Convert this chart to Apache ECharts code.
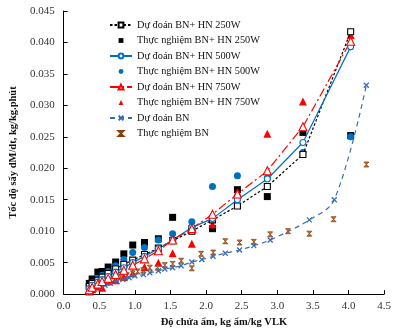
<!DOCTYPE html>
<html>
<head>
<meta charset="utf-8">
<script src="https://cdn.jsdelivr.net/npm/echarts@6/dist/echarts.min.js"></script>
<style>
  html, body { margin: 0; padding: 0; background: #fff; }
  #chart { width: 394px; height: 333px; }
</style>
</head>
<body>
<div id="chart"></div>
<script>
// độ chứa ẩm (x) cho các chế độ BN + HN
const xHN = [0.36, 0.40, 0.48, 0.54, 0.625, 0.73, 0.845, 0.97, 1.135, 1.33, 1.53, 1.80, 2.09, 2.44, 2.86, 3.36, 4.03]
const pred250 = [0.0012, 0.0017, 0.0022, 0.0027, 0.0033, 0.0040, 0.0047, 0.0054, 0.0063, 0.0073, 0.0085, 0.0100, 0.0118, 0.0140, 0.0171, 0.0222, 0.0417]
const exp250 = [0.0017, 0.0024, 0.0035, 0.0036, 0.0043, 0.0051, 0.0064, 0.0078, 0.0082, 0.0088, 0.0122, 0.0104, 0.0104, 0.0166, 0.0155, 0.0257, 0.0252]
const pred500 = [0.0009, 0.0014, 0.0019, 0.0023, 0.0028, 0.0035, 0.0042, 0.0050, 0.0060, 0.0072, 0.0086, 0.0106, 0.0120, 0.0150, 0.0183, 0.0241, 0.0393]
const exp500 = [0.0012, 0.0018, 0.0024, 0.0030, 0.0036, 0.0045, 0.0055, 0.0066, 0.0074, 0.0086, 0.0096, 0.0115, 0.0171, 0.0188, 0.0185, 0.0225, 0.0250]
const pred750 = [0.0007, 0.0011, 0.0016, 0.0020, 0.0025, 0.0031, 0.0038, 0.0046, 0.0056, 0.0069, 0.0086, 0.0104, 0.0127, 0.0159, 0.0196, 0.0266, 0.0402]
const exp750 = [0.0004, 0.0008, 0.0012, 0.0010, 0.0020, 0.0022, 0.0027, 0.0033, 0.0043, 0.0050, 0.0065, 0.0080, 0.0111, 0.0162, 0.0255, 0.0306, 0.0412]

// chỉ bơm nhiệt (BN)
const xBNpred = [0.36, 0.42, 0.50, 0.58, 0.66, 0.75, 0.83, 0.92, 1.00, 1.12, 1.21, 1.33, 1.42, 1.53, 1.65, 1.80, 1.94, 2.10, 2.27, 2.47, 2.67, 2.90, 3.45, 3.80, 4.25]
const predBN = [0.0003, 0.0007, 0.0011, 0.0014, 0.0017, 0.0020, 0.0023, 0.0026, 0.0029, 0.0031, 0.0034, 0.0037, 0.0040, 0.0042, 0.0045, 0.0051, 0.0055, 0.0060, 0.0065, 0.0070, 0.0077, 0.0086, 0.0118, 0.0150, 0.0332]
const xBNexp = [0.36, 0.41, 0.46, 0.54, 0.64, 0.73, 0.80, 0.89, 0.97, 1.04, 1.12, 1.21, 1.32, 1.42, 1.53, 1.65, 1.80, 1.93, 2.10, 2.27, 2.47, 2.67, 2.90, 3.15, 3.45, 3.79, 4.25]
const expBN = [0.0005, 0.0015, 0.0019, 0.0024, 0.0024, 0.0025, 0.0027, 0.0030, 0.0033, 0.0036, 0.0038, 0.0042, 0.0042, 0.0046, 0.0048, 0.0053, 0.0041, 0.0064, 0.0066, 0.0084, 0.0082, 0.0083, 0.0095, 0.0100, 0.0096, 0.0119, 0.0206]

const names = [
  'Dự đoán BN+ HN 250W', 'Thực nghiệm BN+ HN 250W',
  'Dự đoán BN+ HN 500W', 'Thực nghiệm BN+ HN 500W',
  'Dự đoán BN+ HN 750W', 'Thực nghiệm BN+ HN 750W',
  'Dự đoán BN', 'Thực nghiệm BN'
]

const zip = (xs, ys) => xs.map((x, i) => [x, ys[i]])
const font = 'Liberation Serif, Times New Roman, serif'
const cross = 'path://M0,0L10,10M10,0L0,10'
const hourglass = 'path://M0,0L10,0L0,10L10,10Z'

// thực nghiệm: chỉ điểm, không nối (line ẩn để biểu tượng chú giải giữ tỉ lệ)
const points = (name, data, symbol, size, itemStyle) => ({
  name, type: 'line', data, symbol, symbolSize: size,
  lineStyle: { opacity: 0 }, itemStyle, z: 2
})

const chart = echarts.init(document.getElementById('chart'))
chart.setOption({
  animation: false,
  textStyle: { fontFamily: font },
  grid: { left: 60, right: 7, top: 11, bottom: 30 },
  legend: {
    orient: 'vertical',
    left: 104,
    top: 15,
    itemWidth: 22,
    itemHeight: 6,
    itemGap: 5.5,
    textStyle: { fontFamily: font, fontSize: 10.3, color: '#111' },
    data: names
  },
  xAxis: {
    type: 'value', min: 0, max: 4.5, interval: 0.5,
    name: 'Độ chứa ẩm, kg ẩm/kg VLK',
    nameLocation: 'middle', nameGap: 18,
    nameTextStyle: { fontFamily: font, fontWeight: 'bold', fontSize: 10.5, color: '#111' },
    splitLine: { show: false },
    axisLine: { lineStyle: { color: '#000' } },
    axisTick: { inside: true, length: 4, lineStyle: { color: '#000' } },
    axisLabel: { margin: 7, fontSize: 11, color: '#333', fontFamily: font, formatter: v => v.toFixed(1) }
  },
  yAxis: {
    type: 'value', min: 0, max: 0.045, interval: 0.005,
    name: 'Tốc độ sấy dM/dt, kg/kg.phút',
    nameLocation: 'middle', nameGap: 35,
    nameTextStyle: { fontFamily: font, fontWeight: 'bold', fontSize: 10.5, color: '#111' },
    splitLine: { show: false },
    axisLine: { show: true, lineStyle: { color: '#000' } },
    axisTick: { show: true, inside: true, length: 4, lineStyle: { color: '#000' } },
    axisLabel: { margin: 9, fontSize: 11, color: '#333', fontFamily: font, formatter: v => v.toFixed(3) }
  },
  series: [
    {
      name: names[0], type: 'line', data: zip(xHN, pred250),
      symbol: 'rect', symbolSize: 6,
      lineStyle: { color: '#000', width: 1.2, type: [2.5, 2] },
      itemStyle: { color: '#fff', borderColor: '#000', borderWidth: 1.1 }, z: 4
    },
    points(names[1], zip(xHN, exp250), 'rect', 7, { color: '#000' }),
    {
      name: names[2], type: 'line', data: zip(xHN, pred500),
      symbol: 'circle', symbolSize: 6,
      lineStyle: { color: '#0070c0', width: 1.2 },
      itemStyle: { color: '#fff', borderColor: '#0070c0', borderWidth: 1.1 }, z: 4
    },
    points(names[3], zip(xHN, exp500), 'circle', 7, { color: '#0070c0' }),
    {
      name: names[4], type: 'line', data: zip(xHN, pred750),
      symbol: 'triangle', symbolSize: 8,
      lineStyle: { color: '#ff0000', width: 1.2, type: [9, 3, 2, 3] },
      itemStyle: { color: '#fff', borderColor: '#ff0000', borderWidth: 1.1 }, z: 4
    },
    points(names[5], zip(xHN, exp750), 'triangle', 8, { color: '#ff0000' }),
    {
      name: names[6], type: 'line', data: zip(xBNpred, predBN),
      smooth: 0.35,
      symbol: cross, symbolSize: 5,
      lineStyle: { color: '#3a6db0', width: 1.2, type: [5, 4] },
      itemStyle: { color: 'none', borderColor: '#3a6db0', borderWidth: 1.3 }, z: 3
    },
    points(names[7], zip(xBNexp, expBN), hourglass, 5,
      { color: '#c8742e', borderColor: '#8a3f10', borderWidth: 0.8 })
  ]
})
</script>
</body>
</html>
